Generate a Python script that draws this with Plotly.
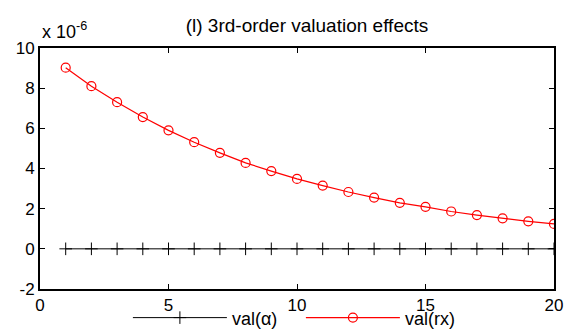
import plotly.graph_objects as go

x_vals = list(range(1, 21))
val_alpha = [0.0] * 20
val_rx = [9.02, 8.10, 7.30, 6.56, 5.90, 5.31, 4.78, 4.28, 3.87, 3.48,
          3.15, 2.83, 2.55, 2.29, 2.09, 1.86, 1.68, 1.52, 1.37, 1.24]

x_ticks = [0, 5, 10, 15, 20]
y_ticks = [-2, 0, 2, 4, 6, 8, 10]

FONT = "Liberation Sans, Arial, sans-serif"

fig = go.Figure()
fig.add_trace(go.Scatter(
    x=x_vals, y=val_alpha, mode="lines+markers", name="val(α)",
    line=dict(color="black", width=1),
    marker=dict(symbol="cross-thin-open", size=9, line=dict(color="black", width=1)),
))
fig.add_trace(go.Scatter(
    x=x_vals, y=val_rx, mode="lines+markers", name="val(rx)",
    line=dict(color="#ff0000", width=1.2),
    marker=dict(symbol="circle-open", size=9, color="#ff0000", line=dict(color="#ff0000", width=1.2)),
))

axis_common = dict(
    showgrid=False, zeroline=False, showline=True, linecolor="black", linewidth=2,
    mirror="allticks", ticks="inside", ticklen=5, tickwidth=1, tickcolor="black",
    tickfont=dict(family=FONT, size=17, color="black"),
)
fig.update_xaxes(range=[0, 20], tickvals=x_ticks, ticktext=[str(v) for v in x_ticks], **axis_common)
fig.update_yaxes(range=[-2, 10], tickvals=y_ticks, ticktext=[str(v) for v in y_ticks], **axis_common)

fig.update_layout(
    width=577, height=333,
    margin=dict(l=40, r=23, t=48, b=44, autoexpand=False),
    paper_bgcolor="white", plot_bgcolor="white",
    font=dict(family=FONT, size=17, color="black"),
    title=dict(text="(l) 3rd-order valuation effects", x=0.532, xanchor="center",
               y=0.925, yanchor="middle", font=dict(family=FONT, size=19, color="black")),
    showlegend=True,
    legend=dict(orientation="h", x=0.171, xanchor="left", y=-0.12, yanchor="middle",
                bgcolor="rgba(0,0,0,0)", font=dict(family=FONT, size=18, color="black"),
                itemwidth=94, entrywidth=64, entrywidthmode="pixels",
                tracegroupgap=0),
    annotations=[dict(text="x 10<sup>-6</sup>", xref="paper", yref="paper",
                      x=0.0, y=1.015, xanchor="left", yanchor="bottom", showarrow=False,
                      font=dict(family=FONT, size=18, color="black"))],
)

fig.write_html("out.html")
